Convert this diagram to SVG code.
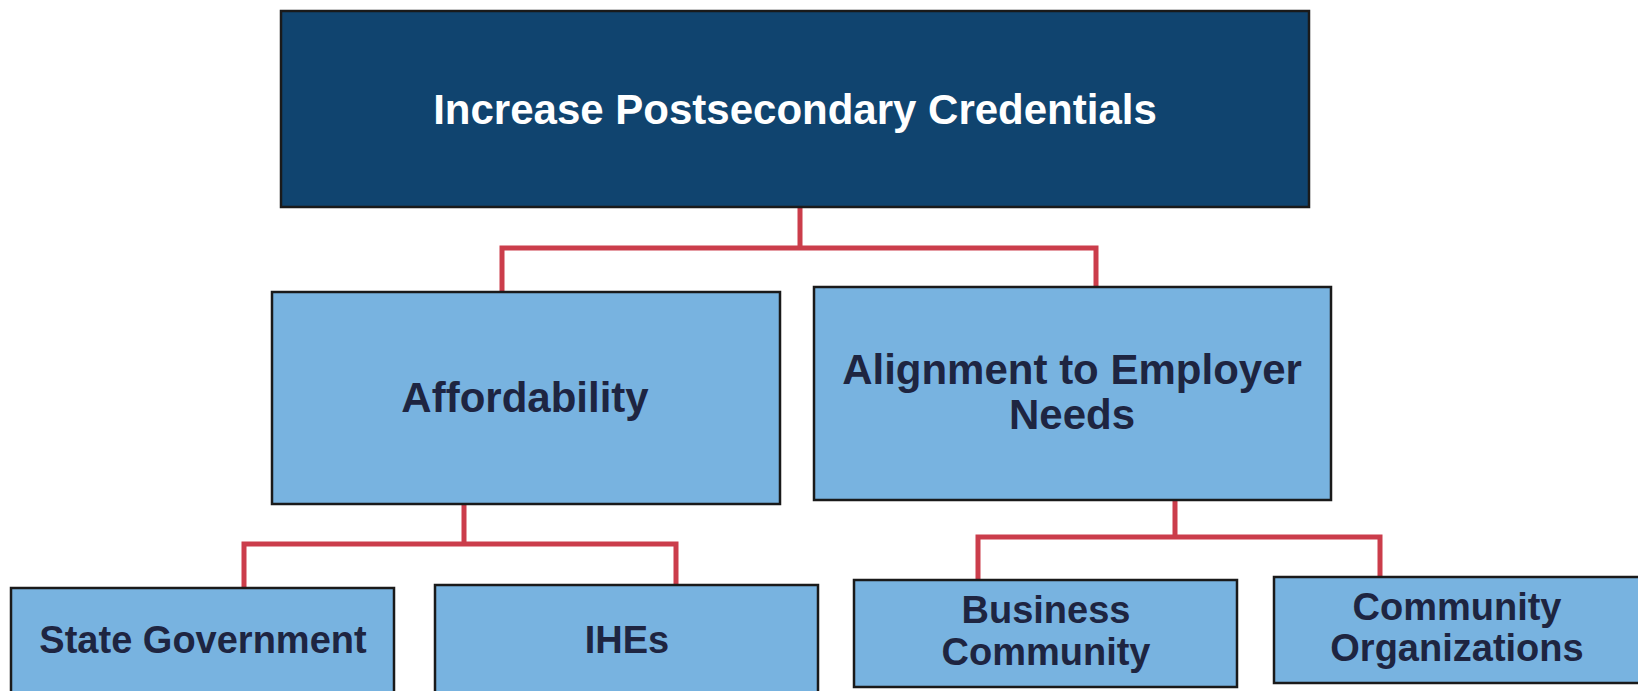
<svg xmlns="http://www.w3.org/2000/svg" width="1638" height="691" viewBox="0 0 1638 691">
<style>
.top{fill:#10446f;stroke:#1a1a1a;stroke-width:2.5}
.box{fill:#78b3e0;stroke:#1a1a1a;stroke-width:2.5}
.tw{font-family:"Liberation Sans",Arial,sans-serif;font-weight:bold;fill:#ffffff;text-anchor:middle}
.td{font-family:"Liberation Sans",Arial,sans-serif;font-weight:bold;fill:#1e2541;text-anchor:middle}
.con{fill:none;stroke:#cb3d4b;stroke-width:5;stroke-linejoin:miter}
</style>
<rect width="1638" height="691" fill="#ffffff"/>
<g id="connectors">
<path class="con" d="M800 207 V248 M502 291 V248 H1096 V287"/>
<path class="con" d="M464 504 V544 M244 588 V544 H676 V585"/>
<path class="con" d="M1175 500 V537 M978 580 V537 H1380 V577"/>
</g>
<g id="n-top">
<rect class="top" x="281" y="11" width="1028" height="196"/>
<text class="tw" x="795" y="124" font-size="42">Increase Postsecondary Credentials</text>
</g>
<g id="n-affordability">
<rect class="box" x="272" y="292" width="508" height="212"/>
<text class="td" x="525" y="412" font-size="42">Affordability</text>
</g>
<g id="n-alignment">
<rect class="box" x="814" y="287" width="517" height="213"/>
<text class="td" x="1072" y="384" font-size="42">Alignment to Employer</text>
<text class="td" x="1072" y="429" font-size="42">Needs</text>
</g>
<g id="n-state">
<rect class="box" x="11" y="588" width="383" height="110"/>
<text class="td" x="203" y="653" font-size="38">State Government</text>
</g>
<g id="n-ihes">
<rect class="box" x="435" y="585" width="383" height="113"/>
<text class="td" x="627" y="653" font-size="38">IHEs</text>
</g>
<g id="n-business">
<rect class="box" x="854" y="580" width="383" height="107"/>
<text class="td" x="1046" y="623" font-size="38">Business</text>
<text class="td" x="1046" y="665" font-size="38">Community</text>
</g>
<g id="n-community">
<rect class="box" x="1274" y="577" width="366" height="106"/>
<text class="td" x="1457" y="620" font-size="38">Community</text>
<text class="td" x="1457" y="661" font-size="38">Organizations</text>
</g>
</svg>
